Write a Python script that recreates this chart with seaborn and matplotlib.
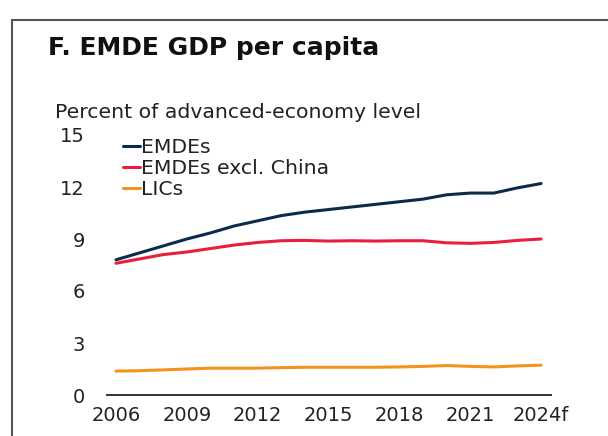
import pandas as pd
import seaborn as sns
import matplotlib.pyplot as plt
from matplotlib.lines import Line2D

years = list(range(2006, 2025))
emdes = [7.8, 8.2, 8.6, 9.0, 9.35, 9.75, 10.05, 10.35, 10.55, 10.7,
         10.85, 11.0, 11.15, 11.3, 11.55, 11.65, 11.65, 11.95, 12.2]
emdes_ex_china = [7.6, 7.85, 8.1, 8.25, 8.45, 8.65, 8.8, 8.9, 8.92, 8.88,
                  8.9, 8.88, 8.9, 8.9, 8.78, 8.75, 8.8, 8.92, 9.0]
lics = [1.38, 1.4, 1.45, 1.5, 1.55, 1.55, 1.55, 1.58, 1.6, 1.6,
        1.6, 1.6, 1.62, 1.65, 1.7, 1.65, 1.62, 1.68, 1.72]
series_names = ["EMDEs", "EMDEs excl. China", "LICs"]
x_ticks = [2006, 2009, 2012, 2015, 2018, 2021, 2024]
x_ticklabels = ["2006", "2009", "2012", "2015", "2018", "2021", "2024f"]
y_ticks = [0, 3, 6, 9, 12, 15]

colors = {"EMDEs": "#0c2a4a", "EMDEs excl. China": "#eb1c3c", "LICs": "#f5921e"}

df = pd.DataFrame({
    "year": years * 3,
    "value": emdes + emdes_ex_china + lics,
    "series": [s for s in series_names for _ in years],
})

sns.set_style("white")
plt.rcParams['font.family'] = ['DejaVu Sans']
text_color = "#222222"
fs = 14
fs_text = 14.7

fig = plt.figure(figsize=(6.08, 4.36), dpi=100)
ax = fig.add_axes([107 / 608, 41 / 436, 444 / 608, 260 / 436])

sns.lineplot(data=df, x="year", y="value", hue="series", palette=colors,
             linewidth=2.2, legend=False, ax=ax)

ax.set_xlim(2005.62, 2024.42)
ax.set_ylim(0, 15)
ax.set_xticks(x_ticks)
ax.set_xticklabels(x_ticklabels)
ax.set_yticks(y_ticks)
ax.set_xlabel("")
ax.set_ylabel("")
ax.tick_params(axis="both", length=0, labelsize=fs, colors=text_color)
ax.tick_params(axis="y", pad=16)
ax.tick_params(axis="x", pad=8)
ax.set_facecolor("none")
for side in ["top", "right", "left"]:
    ax.spines[side].set_visible(False)
ax.spines["bottom"].set_color("#333333")
ax.spines["bottom"].set_linewidth(1.4)

handles = [Line2D([], [], color=colors[s], linewidth=2.2) for s in series_names]
ax.legend(handles, series_names, loc="upper left", bbox_to_anchor=(0.036, 0.988),
          frameon=False, handlelength=0.85, handletextpad=0.05, labelspacing=0.1,
          fontsize=fs_text, labelcolor=text_color, borderaxespad=0, borderpad=0)

fig.text(48 / 608, 1 - 48 / 436, "F. EMDE GDP per capita", fontsize=18,
         fontweight="bold", color="#111111", va="center", ha="left")
fig.text(55 / 608, 1 - 112 / 436, "Percent of advanced-economy level",
         fontsize=fs_text, color=text_color, va="center", ha="left")

# panel frame: left and top edges
fig.add_artist(Line2D([12 / 608, 12 / 608], [0, 1 - 20 / 436], color="#555555",
                      linewidth=1.5, transform=fig.transFigure))
fig.add_artist(Line2D([12 / 608, 1], [1 - 20 / 436, 1 - 20 / 436], color="#555555",
                      linewidth=1.5, transform=fig.transFigure))

fig.savefig("out.png", dpi=100)
